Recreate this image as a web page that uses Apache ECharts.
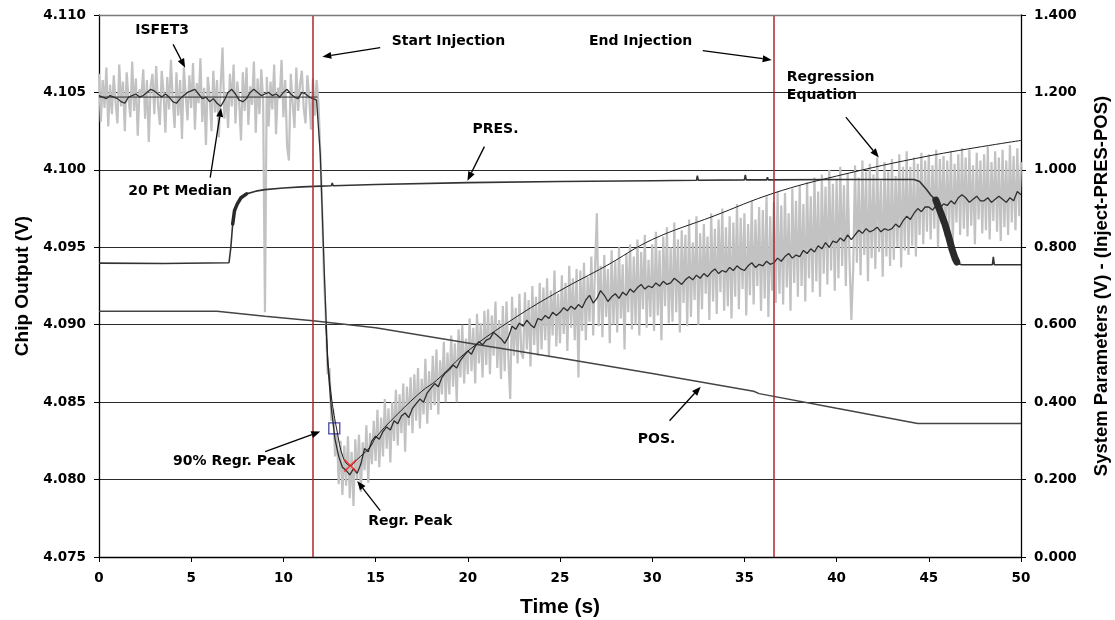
<!DOCTYPE html>
<html>
<head>
<meta charset="utf-8">
<script src="https://cdn.jsdelivr.net/npm/echarts@6/dist/echarts.min.js"></script>
<style>
  html, body { margin: 0; padding: 0; background: #fff; }
  #chart { width: 1115px; height: 620px; }
</style>
</head>
<body>
<div id="chart"></div>
<script>
// raw ISFET3 chip output, one sample every 0.1 s (V)
const RAW_DT = 0.1
const isfetRaw = [
  4.1062, 4.1031, 4.1058, 4.1040, 4.1066, 4.1028, 4.1055, 4.1036, 4.1061, 4.1044,
  4.1030, 4.1068, 4.1041, 4.1057, 4.1025, 4.1063, 4.1046, 4.1034, 4.1070, 4.1038,
  4.1059, 4.1022, 4.1052, 4.1047, 4.1065, 4.1033, 4.1058, 4.1018, 4.1054, 4.1062,
  4.1036, 4.1067, 4.1042, 4.1029, 4.1064, 4.1050, 4.1024, 4.1060, 4.1039, 4.1071,
  4.1045, 4.1027, 4.1063, 4.1035, 4.1058, 4.1020, 4.1066, 4.1049, 4.1032, 4.1061,
  4.1040, 4.1069, 4.1026, 4.1056, 4.1043, 4.1072, 4.1031, 4.1053, 4.1016, 4.1060,
  4.1048, 4.1025, 4.1064, 4.1037, 4.1058, 4.1021, 4.1055, 4.1079, 4.1033, 4.1050,
  4.1027, 4.1062, 4.1041, 4.1068, 4.1030, 4.1057, 4.1044, 4.1019, 4.1063, 4.1038,
  4.1066, 4.1029, 4.1054, 4.1042, 4.1070, 4.1024, 4.1059, 4.1036, 4.1065, 4.1045,
  4.0908, 4.1060, 4.1028, 4.1057, 4.1039, 4.1068, 4.1023, 4.1053, 4.1046, 4.1071,
  4.1034, 4.1058, 4.1015, 4.1006, 4.1062, 4.1043, 4.1027, 4.1066, 4.1038, 4.1055,
  4.1064, 4.1040, 4.1030, 4.1061, 4.1047, 4.1026, 4.1059, 4.1035, 4.1058, 4.1044,
  4.1012, 4.0975, 4.0930, 4.0905, 4.0868, 4.0872, 4.0838, 4.0846, 4.0815, 4.0830,
  4.0797, 4.0825, 4.0790, 4.0822, 4.0796, 4.0828, 4.0788, 4.0818, 4.0783, 4.0826,
  4.0800, 4.0829, 4.0792, 4.0824, 4.0806, 4.0835, 4.0798, 4.0830, 4.0810, 4.0838,
  4.0812, 4.0845, 4.0808, 4.0840, 4.0815, 4.0852, 4.0820, 4.0846, 4.0811, 4.0850,
  4.0825, 4.0858, 4.0822, 4.0855, 4.0830, 4.0862, 4.0818, 4.0860, 4.0835, 4.0866,
  4.0830, 4.0868, 4.0838, 4.0872, 4.0833, 4.0865, 4.0842, 4.0878, 4.0836, 4.0870,
  4.0845, 4.0880, 4.0848, 4.0884, 4.0842, 4.0877, 4.0855, 4.0889, 4.0850, 4.0882,
  4.0855, 4.0893, 4.0860, 4.0888, 4.0850, 4.0897, 4.0866, 4.0900, 4.0862, 4.0891,
  4.0868, 4.0904, 4.0870, 4.0898, 4.0862, 4.0907, 4.0875, 4.0901, 4.0866, 4.0909,
  4.0874, 4.0910, 4.0868, 4.0906, 4.0880, 4.0915, 4.0872, 4.0903, 4.0865, 4.0912,
  4.0870, 4.0915, 4.0878, 4.0852, 4.0918, 4.0880, 4.0911, 4.0875, 4.0920, 4.0882,
  4.0878, 4.0921, 4.0884, 4.0916, 4.0873, 4.0925, 4.0887, 4.0918, 4.0880, 4.0927,
  4.0884, 4.0924, 4.0890, 4.0930, 4.0879, 4.0922, 4.0893, 4.0935, 4.0886, 4.0920,
  4.0888, 4.0932, 4.0894, 4.0927, 4.0883, 4.0938, 4.0898, 4.0930, 4.0890, 4.0936,
  4.0866, 4.0935, 4.0896, 4.0940, 4.0890, 4.0931, 4.0902, 4.0944, 4.0893, 4.0937,
  4.0972, 4.0899, 4.0938, 4.0892, 4.0945, 4.0905, 4.0936, 4.0888, 4.0948, 4.0900,
  4.0941, 4.0895, 4.0950, 4.0904, 4.0939, 4.0884, 4.0946, 4.0908, 4.0952, 4.0897,
  4.0944, 4.0900, 4.0955, 4.0893, 4.0947, 4.0910, 4.0958, 4.0898, 4.0942, 4.0905,
  4.0952, 4.0896, 4.0960, 4.0906, 4.0948, 4.0890, 4.0957, 4.0912, 4.0963, 4.0901,
  4.0950, 4.0902, 4.0966, 4.0908, 4.0955, 4.0895, 4.0961, 4.0914, 4.0958, 4.0899,
  4.0968, 4.0905, 4.0953, 4.0916, 4.0970, 4.0900, 4.0959, 4.0910, 4.0965, 4.0920,
  4.0957, 4.0903, 4.0972, 4.0915, 4.0962, 4.0907, 4.0968, 4.0921, 4.0975, 4.0909,
  4.0963, 4.0912, 4.0970, 4.0904, 4.0966, 4.0918, 4.0978, 4.0910, 4.0969, 4.0923,
  4.0972, 4.0906, 4.0965, 4.0919, 4.0980, 4.0913, 4.0968, 4.0925, 4.0976, 4.0909,
  4.0974, 4.0917, 4.0983, 4.0905, 4.0970, 4.0922, 4.0979, 4.0914, 4.0986, 4.0920,
  4.0977, 4.0913, 4.0985, 4.0924, 4.0972, 4.0909, 4.0988, 4.0927, 4.0980, 4.0918,
  4.0990, 4.0925, 4.0978, 4.0915, 4.0992, 4.0930, 4.0983, 4.0921, 4.0995, 4.0928,
  4.0986, 4.0918, 4.0997, 4.0933, 4.0989, 4.0926, 4.1000, 4.0935, 4.0991, 4.0922,
  4.0994, 4.0930, 4.1002, 4.0938, 4.0990, 4.0925, 4.0998, 4.0942, 4.0903, 4.0936,
  4.1003, 4.0940, 4.0995, 4.0932, 4.1006, 4.0945, 4.0999, 4.0928, 4.1004, 4.0943,
  4.0997, 4.0936, 4.1008, 4.0947, 4.0993, 4.0931, 4.1005, 4.0944, 4.0999, 4.0938,
  4.1007, 4.0942, 4.0996, 4.0950, 4.1010, 4.0937, 4.1002, 4.0948, 4.1012, 4.0945,
  4.1002, 4.0951, 4.1008, 4.0944, 4.1004, 4.0958, 4.1011, 4.0952, 4.1006, 4.0960,
  4.1010, 4.0955, 4.1003, 4.0962, 4.1013, 4.0950, 4.1007, 4.0965, 4.1009, 4.0957,
  4.1006, 4.0960, 4.1012, 4.0953, 4.1004, 4.0966, 4.1010, 4.0958, 4.1014, 4.0962,
  4.1008, 4.0957, 4.1013, 4.0964, 4.1003, 4.0952, 4.1011, 4.0968, 4.1006, 4.0959,
  4.1010, 4.0961, 4.1015, 4.0955, 4.1005, 4.0967, 4.1012, 4.0960, 4.1008, 4.0954,
  4.1013, 4.0963, 4.1006, 4.0958, 4.1016, 4.0966, 4.1009, 4.0961, 4.1014, 4.0970,
  4.1005
]

// 20 point median, one value every 0.2 s (V)
const MEDIAN_DT = 0.2
const median20 = [
  4.1048, 4.1047, 4.1046, 4.1048, 4.1047,
  4.1046, 4.1044, 4.1043, 4.1047, 4.1048,
  4.1049, 4.1047, 4.1048, 4.1050, 4.1052,
  4.1051, 4.1049, 4.1047, 4.1049, 4.1047,
  4.1044, 4.1043, 4.1046, 4.1048, 4.1050,
  4.1051, 4.1052, 4.1049, 4.1046, 4.1047,
  4.1044, 4.1046, 4.1043, 4.1041, 4.1045,
  4.1050, 4.1052, 4.1049, 4.1045, 4.1044,
  4.1046, 4.1050, 4.1052, 4.1050, 4.1048,
  4.1049, 4.1050, 4.1048, 4.1049, 4.1047,
  4.1050, 4.1052, 4.1049, 4.1047, 4.1046,
  4.1050, 4.1049, 4.1047, 4.1046, 4.1045,
  4.1010, 4.0940, 4.0875, 4.0846, 4.0826,
  4.0815, 4.0808, 4.0806, 4.0803, 4.0807,
  4.0804, 4.0810, 4.0820, 4.0818, 4.0825,
  4.0828, 4.0826, 4.0831, 4.0834, 4.0832,
  4.0838, 4.0836, 4.0841, 4.0843, 4.0840,
  4.0846, 4.0849, 4.0852, 4.0850, 4.0856,
  4.0859, 4.0862, 4.0860, 4.0866, 4.0869,
  4.0871, 4.0874, 4.0872, 4.0877, 4.0880,
  4.0883, 4.0881, 4.0886, 4.0889, 4.0887,
  4.0890, 4.0891, 4.0895, 4.0893, 4.0891,
  4.0888, 4.0892, 4.0899, 4.0897, 4.0901,
  4.0899, 4.0903, 4.0900, 4.0898, 4.0904,
  4.0903, 4.0906, 4.0904, 4.0908, 4.0906,
  4.0908, 4.0911, 4.0909, 4.0912, 4.0910,
  4.0913, 4.0911, 4.0916, 4.0919, 4.0914,
  4.0917, 4.0922, 4.0919, 4.0915, 4.0918,
  4.0920, 4.0917, 4.0921, 4.0919, 4.0923,
  4.0921, 4.0924, 4.0926, 4.0923, 4.0925,
  4.0924, 4.0927, 4.0925, 4.0928, 4.0926,
  4.0927, 4.0930, 4.0928, 4.0926, 4.0929,
  4.0931, 4.0929, 4.0932, 4.0930, 4.0933,
  4.0931, 4.0934, 4.0936, 4.0933, 4.0935,
  4.0934, 4.0937, 4.0935, 4.0938, 4.0936,
  4.0935, 4.0938, 4.0940, 4.0937, 4.0939,
  4.0938, 4.0941, 4.0939, 4.0940, 4.0943,
  4.0941, 4.0944, 4.0946, 4.0943, 4.0945,
  4.0944, 4.0948, 4.0946, 4.0949, 4.0947,
  4.0951, 4.0949, 4.0953, 4.0950, 4.0954,
  4.0953, 4.0956, 4.0954, 4.0958, 4.0955,
  4.0958, 4.0961, 4.0959, 4.0962, 4.0960,
  4.0961, 4.0963, 4.0960, 4.0962, 4.0961,
  4.0962, 4.0965, 4.0963, 4.0967, 4.0970,
  4.0968, 4.0972, 4.0975, 4.0973, 4.0976,
  4.0976, 4.0974, 4.0977, 4.0975, 4.0978,
  4.0977, 4.0980, 4.0978, 4.0982, 4.0984,
  4.0982, 4.0979, 4.0981, 4.0983, 4.0980,
  4.0980, 4.0982, 4.0979, 4.0981, 4.0983,
  4.0981, 4.0979, 4.0982, 4.0980, 4.0986,
  4.0984
]

// pre-injection baseline level
const baseline = [[0, 4.1047], [11.85, 4.1047]]

// fitted regression curve [time, V]
const regression = [
  [12.3, 4.0900], [12.45, 4.0872], [12.63, 4.0851], [12.9, 4.0832], [13.25, 4.0814],
  [13.63, 4.0809], [14.0, 4.0813], [14.7, 4.0821], [15.0, 4.0827], [16.0, 4.0840],
  [17.5, 4.0857], [18.3, 4.0864], [20.0, 4.0883], [22.5, 4.0904], [25.0, 4.0922],
  [27.5, 4.0938], [30.0, 4.0955], [33.3, 4.0970], [36.6, 4.0985], [40.0, 4.0996],
  [45.0, 4.1009], [50.0, 4.1019]
]

// system parameters (right axis) [time, V]
const pres = [
  [0, 0.759], [3.5, 0.758], [7.05, 0.760], [7.15, 0.80], [7.25, 0.86], [7.35, 0.895],
  [7.5, 0.912], [7.7, 0.928], [8.0, 0.938], [8.5, 0.945], [9.0, 0.949], [10.0, 0.953],
  [11.0, 0.956], [12.0, 0.958], [12.6, 0.959], [12.65, 0.966], [12.7, 0.959], [15.0, 0.962],
  [20.0, 0.967], [25.0, 0.970], [30.0, 0.972], [32.4, 0.973], [32.45, 0.985], [32.5, 0.973],
  [35.0, 0.974], [35.05, 0.987], [35.1, 0.974], [36.2, 0.974], [36.25, 0.981], [36.3, 0.974],
  [40.0, 0.975], [44.2, 0.975], [44.5, 0.970], [44.9, 0.948], [45.1, 0.935],
  [45.38, 0.922], [45.6, 0.895], [45.86, 0.862], [46.08, 0.827], [46.27, 0.793],
  [46.42, 0.772], [46.52, 0.762], [46.65, 0.757], [46.8, 0.755],
  [48.45, 0.755], [48.5, 0.775], [48.55, 0.755], [50.0, 0.755]
]
// time spans where PRES samples jitter into a thick band [from, to, band width px]
const presBands = [[7.25, 8.0, 3.5], [45.38, 46.52, 7]]

const pos = [
  [0, 0.635], [6.4, 0.635], [9.0, 0.622], [11.6, 0.610], [11.7, 0.614], [15.0, 0.592],
  [20.0, 0.553], [25.0, 0.514], [30.0, 0.474], [35.5, 0.428], [35.8, 0.422], [40.0, 0.384],
  [44.4, 0.345], [50.0, 0.345]
]

const injectionTimes = [11.6, 36.6]
const peak90 = [12.76, 4.0833]
const regrPeak = [13.63, 4.0809]

// annotation labels and arrows, in left-axis data coordinates
const labels = [
  { text: 'ISFET3', at: [3.42, 4.1090] },
  { text: '20 Pt Median', at: [4.40, 4.0986] },
  { text: 'Start Injection', at: [18.95, 4.1083] },
  { text: 'End Injection', at: [29.37, 4.1083] },
  { text: 'Regression\nEquation', at: [37.30, 4.10655], left: true },
  { text: 'PRES.', at: [21.50, 4.1026] },
  { text: 'POS.', at: [30.24, 4.0826] },
  { text: '90% Regr. Peak', at: [7.33, 4.0812] },
  { text: 'Regr. Peak', at: [16.88, 4.0773] }
]
const arrows = [
  [[4.02, 4.1081], [4.67, 4.1066]],
  [[6.03, 4.0995], [6.62, 4.1040]],
  [[15.25, 4.1079], [12.11, 4.1073]],
  [[32.74, 4.1077], [36.48, 4.1071]],
  [[40.50, 4.1034], [42.29, 4.1008]],
  [[20.90, 4.1015], [19.98, 4.0993]],
  [[30.94, 4.0838], [32.63, 4.0860]],
  [[9.01, 4.0818], [12.0, 4.0831]],
  [[15.25, 4.0780], [14.0, 4.0799]]
]

const WIDE = '"DejaVu Sans", Verdana, sans-serif'
const NARROW = '"Liberation Sans", Arial, sans-serif'
const chart = echarts.init(document.getElementById('chart'))

const axisLabel = (digits, margin) => ({
  color: '#000',
  fontFamily: WIDE,
  fontWeight: 'bold',
  fontSize: 13.5,
  margin: margin,
  formatter: (v) => v.toFixed(digits)
})
const axisName = (size) => ({ color: '#000', fontFamily: NARROW, fontWeight: 'bold', fontSize: size })

const bandSeries = presBands.map(([from, to, w]) => ({
  name: 'PRES. band',
  type: 'line',
  yAxisIndex: 1,
  data: pres.filter(p => p[0] >= from && p[0] <= to),
  showSymbol: false,
  lineStyle: { color: '#2a2a2a', width: w, cap: 'round' },
  z: 2
}))

const option = {
  animation: false,
  backgroundColor: '#fff',
  grid: { left: 99, right: 94, top: 15, bottom: 63, containLabel: false, outerBoundsMode: 'none' },
  xAxis: {
    type: 'value',
    min: 0,
    max: 50,
    interval: 5,
    name: 'Time (s)',
    nameLocation: 'middle',
    nameGap: 40,
    nameTextStyle: axisName(21),
    axisLine: { lineStyle: { color: '#000', width: 1.3 } },
    axisTick: { length: 5, lineStyle: { color: '#000' } },
    axisLabel: axisLabel(0, 14),
    splitLine: { show: false }
  },
  yAxis: [
    {
      type: 'value',
      min: 4.075,
      max: 4.110,
      interval: 0.005,
      name: 'Chip Output (V)',
      nameLocation: 'middle',
      nameGap: 67,
      nameTextStyle: axisName(19),
      axisLine: { show: true, lineStyle: { color: '#000', width: 1.3 } },
      axisTick: { show: true, length: 5, lineStyle: { color: '#000' } },
      axisLabel: axisLabel(3, 13),
      splitLine: { lineStyle: { color: '#2a2a2a', width: 1.2 } }
    },
    {
      type: 'value',
      min: 0,
      max: 1.4,
      interval: 0.2,
      position: 'right',
      name: 'System Parameters (V) - (Inject-PRES-POS)',
      nameLocation: 'middle',
      nameGap: 71,
      nameRotate: 90,
      nameTextStyle: axisName(18.5),
      axisLine: { show: true, lineStyle: { color: '#000', width: 1.3 } },
      axisTick: { show: true, length: 5, lineStyle: { color: '#000' } },
      axisLabel: axisLabel(3, 13),
      splitLine: { show: false }
    }
  ],
  series: [
    {
      name: 'ISFET3',
      type: 'line',
      data: isfetRaw.map((v, i) => [+(i * RAW_DT).toFixed(2), v]),
      showSymbol: false,
      lineStyle: { color: '#c2c2c2', width: 2.2 },
      z: 1,
      markLine: {
        silent: true,
        symbol: 'none',
        label: { show: false },
        lineStyle: { color: '#a82828', width: 1.5, type: 'solid' },
        data: injectionTimes.map(t => ({ xAxis: t }))
      }
    },
    {
      name: '20 Pt Median',
      type: 'line',
      data: median20.map((v, i) => [+(i * MEDIAN_DT).toFixed(2), v]),
      showSymbol: false,
      lineStyle: { color: '#2e2e2e', width: 1.3 },
      z: 3,
      markLine: {
        silent: true,
        symbol: 'none',
        label: { show: false },
        lineStyle: { color: '#7a7a7a', width: 1.4, type: 'solid' },
        data: [{ yAxis: 4.110 }]
      }
    },
    {
      name: 'Baseline',
      type: 'line',
      data: baseline,
      showSymbol: false,
      lineStyle: { color: '#2e2e2e', width: 1 },
      z: 3
    },
    {
      name: 'Regression Equation',
      type: 'line',
      data: regression,
      smooth: 0.4,
      showSymbol: false,
      lineStyle: { color: '#1e1e1e', width: 1 },
      z: 4
    },
    {
      name: 'PRES.',
      type: 'line',
      yAxisIndex: 1,
      data: pres,
      showSymbol: false,
      lineStyle: { color: '#333', width: 1.6 },
      z: 2
    },
    ...bandSeries,
    {
      name: 'POS.',
      type: 'line',
      yAxisIndex: 1,
      data: pos,
      showSymbol: false,
      lineStyle: { color: '#444', width: 1.5 },
      z: 2
    },
    {
      name: '90% Regr. Peak',
      type: 'scatter',
      data: [peak90],
      symbol: 'rect',
      symbolSize: 11,
      itemStyle: { color: 'rgba(0,0,0,0)', borderColor: '#1c1c8a', borderWidth: 1.3 },
      z: 6
    },
    {
      name: 'Regr. Peak',
      type: 'scatter',
      data: [regrPeak],
      symbol: 'path://M0,0L10,10M10,0L0,10',
      symbolSize: 12,
      itemStyle: { color: 'none', borderColor: '#ff1a1a', borderWidth: 1.5 },
      z: 6
    }
  ]
}

chart.setOption(option)

// place annotations through the axes' own scales
const toPx = (p) => chart.convertToPixel({ gridIndex: 0 }, p)
const graphics = []
labels.forEach(l => {
  const [x, y] = toPx(l.at)
  graphics.push({
    type: 'text',
    x: x,
    y: y,
    z: 10,
    style: {
      text: l.text,
      font: 'bold 14px ' + WIDE,
      fill: '#000',
      align: l.left ? 'left' : 'center',
      verticalAlign: l.left ? 'top' : 'middle',
      lineHeight: 18
    }
  })
})
arrows.forEach(a => {
  const [x1, y1] = toPx(a[0])
  const [x2, y2] = toPx(a[1])
  const ang = Math.atan2(y2 - y1, x2 - x1)
  const len = 9, half = 3.5
  const bx = x2 - len * Math.cos(ang), by = y2 - len * Math.sin(ang)
  graphics.push({
    type: 'line', z: 10,
    shape: { x1: x1, y1: y1, x2: bx, y2: by },
    style: { stroke: '#000', lineWidth: 1.3 }
  })
  graphics.push({
    type: 'polygon', z: 10,
    shape: { points: [
      [x2, y2],
      [bx + half * Math.sin(ang), by - half * Math.cos(ang)],
      [bx - half * Math.sin(ang), by + half * Math.cos(ang)]
    ] },
    style: { fill: '#000' }
  })
})
chart.setOption({ graphic: graphics })

window.addEventListener('resize', () => chart.resize())
</script>
</body>
</html>
